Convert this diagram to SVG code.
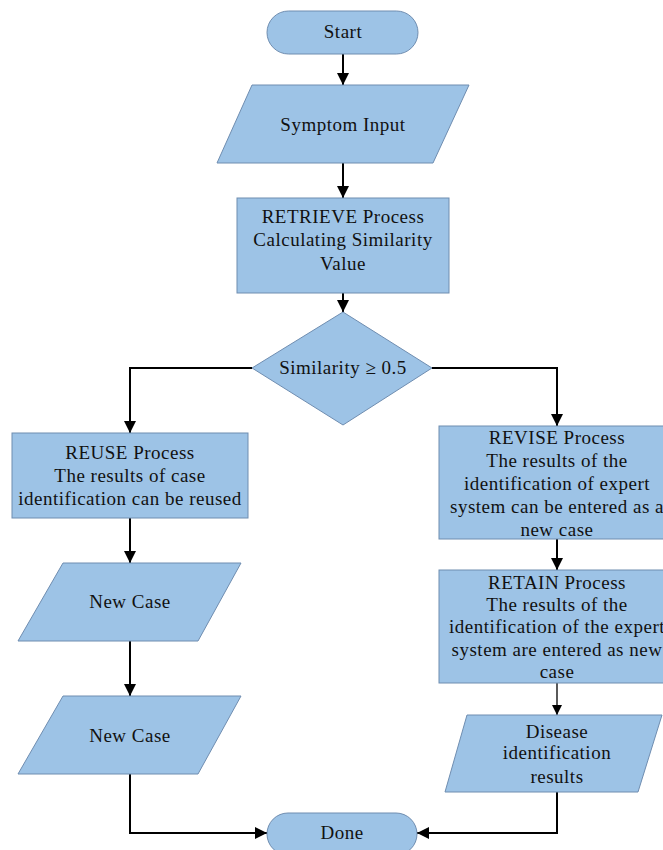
<svg xmlns="http://www.w3.org/2000/svg" width="663" height="850" viewBox="0 0 663 850">
<defs>
<style>
.n{fill:#9dc3e6;stroke:#6f8db0;stroke-width:1}
.t{font-family:"Liberation Serif","Times New Roman",serif;font-size:19px;letter-spacing:0.5px;fill:#111;text-anchor:middle}
.c{fill:none;stroke:#000;stroke-width:2}
.c2{fill:none;stroke:#000;stroke-width:1.3}
</style>
<marker id="ah" viewBox="0 0 10 10" refX="10" refY="5" markerWidth="6" markerHeight="6" markerUnits="strokeWidth" orient="auto">
<path d="M0,0 L10,5 L0,10 z" fill="#000"/>
</marker>
<marker id="ah2" viewBox="0 0 10 10" refX="10" refY="5" markerWidth="8" markerHeight="8" markerUnits="strokeWidth" orient="auto">
<path d="M0,0 L10,5 L0,10 z" fill="#000"/>
</marker>
</defs>
<rect width="663" height="850" fill="#fff"/>
<g id="connectors">
<path class="c" d="M343,54 V85" marker-end="url(#ah)"/>
<path class="c" d="M343,163 V198" marker-end="url(#ah)"/>
<path class="c" d="M343,293 V312" marker-end="url(#ah)"/>
<path class="c" d="M252,368 H130 V433" marker-end="url(#ah)"/>
<path class="c" d="M432,368 H557 V426" marker-end="url(#ah)"/>
<path class="c" d="M130,518 V563" marker-end="url(#ah)"/>
<path class="c" d="M130,641 V696" marker-end="url(#ah)"/>
<path class="c" d="M130,774 V833 H267" marker-end="url(#ah)"/>
<path class="c" d="M557,539 V570" marker-end="url(#ah)"/>
<path class="c2" d="M557,683 V715" marker-end="url(#ah2)"/>
<path class="c" d="M557,792 V833 H417" marker-end="url(#ah)"/>
</g>
<g id="start">
<rect class="n" x="267" y="11" width="151" height="43" rx="21.5"/>
<text class="t" x="343" y="38">Start</text>
</g>
<g id="symptom">
<polygon class="n" points="252,85 469,85 433,163 217,163"/>
<text class="t" x="343" y="131">Symptom Input</text>
</g>
<g id="retrieve">
<rect class="n" x="237" y="198" width="212" height="95"/>
<text class="t" x="343" y="223">RETRIEVE Process</text>
<text class="t" x="343" y="246">Calculating Similarity</text>
<text class="t" x="343" y="270">Value</text>
</g>
<g id="decision">
<polygon class="n" points="343,312 432,368 343,425 252,368"/>
<text class="t" x="343" y="374">Similarity ≥ 0.5</text>
</g>
<g id="reuse">
<rect class="n" x="12" y="433" width="236" height="85"/>
<text class="t" x="130" y="459">REUSE Process</text>
<text class="t" x="130" y="482">The results of case</text>
<text class="t" x="130" y="505">identification can be reused</text>
</g>
<g id="newcase1">
<polygon class="n" points="63,563 241,563 198,641 18,641"/>
<text class="t" x="130" y="608">New Case</text>
</g>
<g id="newcase2">
<polygon class="n" points="63,696 241,696 198,774 18,774"/>
<text class="t" x="130" y="742">New Case</text>
</g>
<g id="revise">
<rect class="n" x="439" y="426" width="230" height="113"/>
<text class="t" x="557" y="444">REVISE Process</text>
<text class="t" x="557" y="467">The results of the</text>
<text class="t" x="557" y="490">identification of expert</text>
<text class="t" x="557" y="513">system can be entered as a</text>
<text class="t" x="557" y="536">new case</text>
</g>
<g id="retain">
<rect class="n" x="439" y="570" width="230" height="113"/>
<text class="t" x="557" y="589">RETAIN Process</text>
<text class="t" x="557" y="611">The results of the</text>
<text class="t" x="557" y="633">identification of the expert</text>
<text class="t" x="557" y="656">system are entered as new</text>
<text class="t" x="557" y="678">case</text>
</g>
<g id="disease">
<polygon class="n" points="467,715 662,715 638,792 445,792"/>
<text class="t" x="557" y="738">Disease</text>
<text class="t" x="557" y="759">identification</text>
<text class="t" x="557" y="783">results</text>
</g>
<g id="done">
<rect class="n" x="267" y="813" width="150" height="42" rx="21"/>
<text class="t" x="342" y="839">Done</text>
</g>
</svg>
